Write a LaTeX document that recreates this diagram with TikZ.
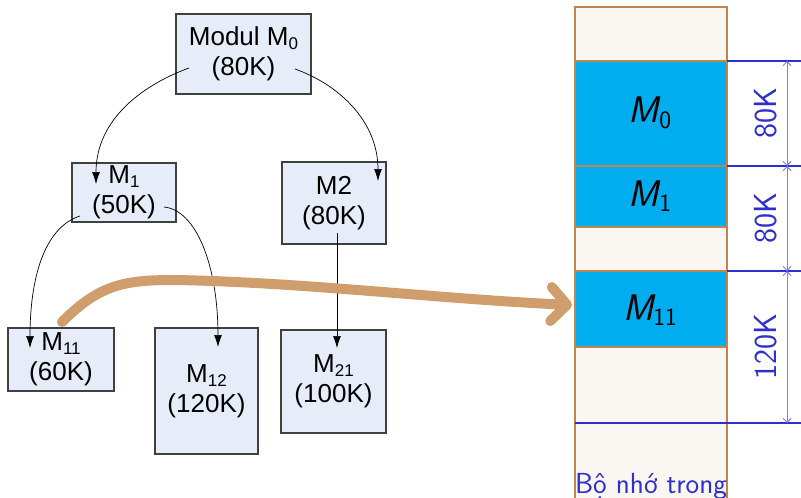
\documentclass[tikz,border=0pt]{standalone}
\usepackage{fontspec}
\newfontfamily\arialf{Liberation Sans}
\usetikzlibrary{arrows.meta}
\definecolor{boxfill}{HTML}{E6ECF8}
\definecolor{boxline}{HTML}{404040}
\definecolor{memfill}{HTML}{FAF7F2}
\definecolor{membrown}{HTML}{C3834A}
\definecolor{memblue}{HTML}{00AEEF}
\definecolor{dimblue}{HTML}{2F2FD0}
\definecolor{dimlight}{HTML}{8080E6}
\definecolor{bigarrow}{HTML}{CF9E6C}
\newcommand\lsub[1]{\raisebox{-0.3ex}{\fontsize{17}{17}\selectfont #1}}
\newcommand\msub[1]{\raisebox{-5.5pt}{\fontsize{25}{25}\selectfont\upshape #1}}
\tikzset{
  modbox/.style={draw=boxline, line width=1.3pt, fill=boxfill, inner sep=0pt,
    align=center, font=\arialf\fontsize{26}{30}\selectfont},
  calls/.style={draw=black, line width=0.7pt, -{Latex[length=12pt,width=8pt]}},
  memlabel/.style={font=\sffamily\itshape\fontsize{37}{38}\selectfont},
  dimtext/.style={text=dimblue, font=\sffamily\fontsize{32}{34}\selectfont, rotate=90},
  dimline/.style={draw=dimblue, line width=2.4pt},
  dimarrow/.style={draw=dimlight, line width=0.9pt,
    {Straight Barb[length=4pt,width=8pt]}-{Straight Barb[length=4pt,width=8pt]}},
}
\begin{document}
\begin{tikzpicture}[x=1pt,y=-1pt]
\useasboundingbox (0,0) rectangle (801,498);
% module boxes
\node[modbox, minimum width=135pt, minimum height=80pt] (m0) at (243.5,54) {Modul M\lsub{0}\\(80K)};
\node[modbox, minimum width=104pt, minimum height=59pt] (m1) at (124,192.5) {M\lsub{1}\\(50K)};
\node[modbox, minimum width=104pt, minimum height=82pt] (m2) at (334,203) {M2\\(80K)};
\node[modbox, minimum width=106pt, minimum height=63pt] (m11) at (61,359.5) {M\lsub{11}\\(60K)};
\node[modbox, minimum width=103pt, minimum height=126pt] (m12) at (206.5,391) {M\lsub{12}\\(120K)};
\node[modbox, minimum width=105pt, minimum height=103pt] (m21) at (333.5,381.5) {M\lsub{21}\\(100K)};
% connector ends
\coordinate (m0l) at (189,68);
\coordinate (m0r) at (295,69);
\coordinate (m1in) at (96,184);
\coordinate (m2in) at (378,181);
\coordinate (m1l) at (80,216);
\coordinate (m1r) at (164,207);
\coordinate (m11in) at (30,348);
\coordinate (m12in) at (218,347);
\coordinate (m2b) at (337,233);
\coordinate (m21in) at (337,348);
\draw[calls] (m0l) .. controls (145,84) and (96,118) .. (m1in);
\draw[calls] (m0r) .. controls (340,85) and (378,122) .. (m2in);
\draw[calls] (m1l) .. controls (48,226) and (30,270) .. (m11in);
\draw[calls] (m1r) .. controls (196,210) and (218,265) .. (m12in);
\draw[calls] (m2b) -- (m21in);
% memory column
\fill[memfill] (575,7) rectangle (727,500);
\fill[memblue] (575,61) rectangle (727,166);
\fill[memblue] (575,166) rectangle (727,227);
\fill[memblue] (575,271) rectangle (727,347);
\draw[membrown, line width=2.5pt] (575,500) -- (575,7) -- (727,7) -- (727,500);
\foreach \yy in {61,166,227,271,347} \draw[membrown, line width=2.5pt] (575,\yy) -- (727,\yy);
\node[memlabel] (lm0) at (650,113) {M\msub{0}};
\node[memlabel] (lm1) at (650,196) {M\msub{1}};
\node[memlabel] (lm11) at (650,310) {M\msub{11}};
\node[text=dimblue, font=\sffamily\fontsize{29}{30}\selectfont, anchor=base] (mem) at (651,493) {Bộ nhớ trong};
% dimensions
\coordinate (d0) at (787,61);
\coordinate (d1) at (787,166);
\coordinate (d2) at (787,271);
\coordinate (d3) at (787,423);
\draw[dimline] (727,61) -- (801,61);
\draw[dimline] (727,166) -- (801,166);
\draw[dimline] (727,271) -- (801,271);
\draw[dimline] (575,423) -- (801,423);
\draw[dimarrow] (d0) -- (d1);
\draw[dimarrow] (d1) -- (d2);
\draw[dimarrow] (d2) -- (d3);
\node[dimtext] (t0) at (766,113) {80K};
\node[dimtext] (t1) at (766,218) {80K};
\node[dimtext] (t2) at (766,347) {120K};
% big arrow
\coordinate (bstart) at (62,322);
\coordinate (bend) at (572,305);
\draw[bigarrow, line width=10pt, line cap=round, -{Straight Barb[round, length=16pt, width=34pt]}]
  (bstart) .. controls (100,284) and (125,280) .. (175,280)
  .. controls (300,282) and (440,299) .. (bend);
\end{tikzpicture}
\end{document}
